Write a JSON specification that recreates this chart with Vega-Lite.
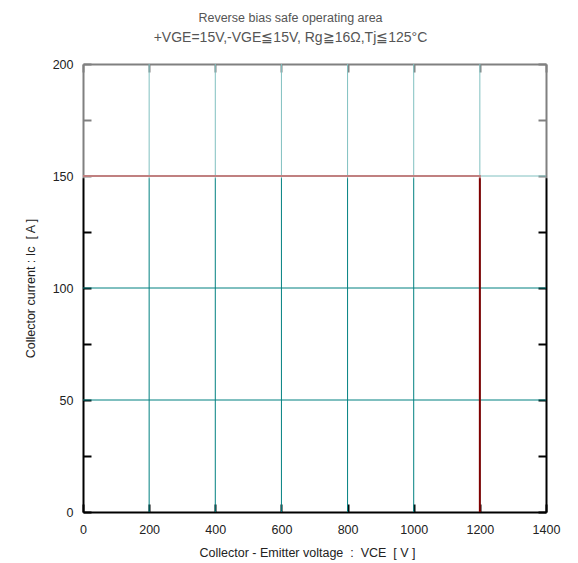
{
  "$schema": "https://vega.github.io/schema/vega-lite/v6.json",
  "width": 463,
  "height": 448,
  "autosize": {"type": "none"},
  "padding": {"left": 83, "top": 64, "right": 32, "bottom": 51},
  "background": "white",
  "title": {
    "text": "Reverse bias safe operating area",
    "subtitle": "+VGE=15V,-VGE≦15V, Rg≧16Ω,Tj≦125°C",
    "font": "Liberation Sans",
    "fontSize": 12.5,
    "fontWeight": "normal",
    "color": "#555555",
    "subtitleFont": "Liberation Sans",
    "subtitleFontSize": 14,
    "subtitleColor": "#555555",
    "subtitlePadding": 7,
    "anchor": "middle",
    "dx": -24,
    "offset": 12
  },
  "config": {
    "view": {"stroke": null},
    "axis": {
      "labelFont": "Liberation Sans",
      "titleFont": "Liberation Sans",
      "labelFontSize": 12.5,
      "titleFontSize": 12.5,
      "titleFontWeight": "normal",
      "labelColor": "#222222",
      "titleColor": "#222222",
      "domainColor": "black",
      "domainWidth": 2,
      "tickColor": "black",
      "tickWidth": 2,
      "grid": false,
      "zindex": 0,
      "format": "d",
      "labelFlush": false
    }
  },
  "resolve": {"axis": {"x": "independent", "y": "independent"}},
  "layer": [
    {
      "data": {"values": [{"v": 200}, {"v": 400}, {"v": 600}, {"v": 800}, {"v": 1000}, {"v": 1200}]},
      "mark": {"type": "rule", "color": "#008080", "strokeWidth": 1},
      "encoding": {
        "x": {
          "field": "v", "type": "quantitative",
          "scale": {"domain": [0, 1400], "nice": false, "zero": false},
          "axis": {
            "orient": "bottom",
            "values": [0, 200, 400, 600, 800, 1000, 1200, 1400],
            "tickSize": -8,
            "labelPadding": 19,
            "labelFlush": false,
            "title": "Collector - Emitter voltage \u00a0:\u00a0 VCE \u00a0[ V ]",
            "titleX": 224,
            "titlePadding": 11
          }
        }
      }
    },
    {
      "data": {"values": [{"c": 50}, {"c": 100}, {"c": 150}]},
      "mark": {"type": "rule", "color": "#008080", "strokeWidth": 1},
      "encoding": {
        "y": {
          "field": "c", "type": "quantitative",
          "scale": {"domain": [0, 200], "nice": false, "zero": false},
          "axis": {
            "orient": "left",
            "values": [0, 25, 50, 75, 100, 125, 150, 175, 200],
            "tickSize": -8,
            "labelPadding": 18,
            "labelFlush": false,
            "labelExpr": "datum.value % 50 === 0 ? datum.label : ''",
            "encode": {"ticks": {"update": {"x2": {"signal": "datum.value % 50 === 0 ? 8 : 4"}}}},
            "title": "Collector current : Ic \u00a0[ A ]",
            "titlePadding": 15
          }
        }
      }
    },
    {
      "data": {"values": [
        {"v": 0, "c": 150, "o": 1},
        {"v": 1200, "c": 150, "o": 2},
        {"v": 1200, "c": 0, "o": 3}
      ]},
      "mark": {"type": "line", "color": "#800000", "strokeWidth": 2},
      "encoding": {
        "x": {
          "field": "v", "type": "quantitative",
          "axis": {
            "orient": "top",
            "values": [0, 200, 400, 600, 800, 1000, 1200, 1400],
            "tickSize": -8,
            "labels": false,
            "title": null
          }
        },
        "y": {
          "field": "c", "type": "quantitative",
          "axis": {
            "orient": "right",
            "values": [0, 25, 50, 75, 100, 125, 150, 175, 200],
            "tickSize": -8,
            "labels": false,
            "encode": {"ticks": {"update": {"x2": {"signal": "datum.value % 50 === 0 ? -8 : -4"}}}},
            "title": null
          }
        },
        "order": {"field": "o", "type": "quantitative"}
      }
    },
    {
      "data": {"values": [{"x1": -8, "x2": 1408, "y1": 149, "y2": 203}]},
      "mark": {"type": "rect", "color": "white", "opacity": 0.5},
      "encoding": {
        "x": {"field": "x1", "type": "quantitative", "axis": null},
        "x2": {"field": "x2"},
        "y": {"field": "y1", "type": "quantitative", "axis": null},
        "y2": {"field": "y2"}
      }
    }
  ]
}
